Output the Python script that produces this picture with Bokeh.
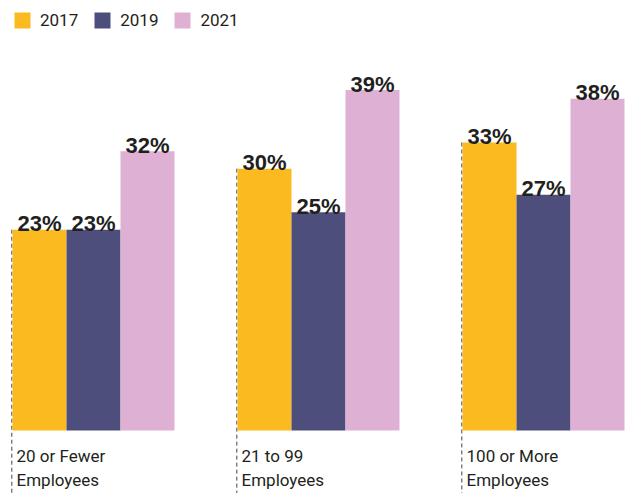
from bokeh.plotting import figure
from bokeh.models import ColumnDataSource, Legend, LegendItem, Range1d
from bokeh.transform import dodge
from bokeh.embed import file_html
from bokeh.resources import INLINE
from bokeh.core.properties import value

categories = ["20 or Fewer\nEmployees", "21 to 99\nEmployees", "100 or More\nEmployees"]
years = ["2017", "2019", "2021"]
v2017 = [23, 30, 33]
v2019 = [23, 25, 27]
v2021 = [32, 39, 38]
colors = ["#FBBA1F", "#4D4E7C", "#DEB0D3"]

y_start, y_end = -7.216, 49.26
src = ColumnDataSource(dict(
    x=list(range(len(categories))),
    cat=categories,
    v2017=v2017, v2019=v2019, v2021=v2021,
    l2017=[f"{v}%" for v in v2017],
    l2019=[f"{v}%" for v in v2019],
    l2021=[f"{v}%" for v in v2021],
    ybot=[y_start] * len(categories),
))

p = figure(width=630, height=493, x_range=Range1d(-0.4133, 2.3867),
           y_range=Range1d(y_start, y_end), output_backend="svg",
           toolbar_location=None, min_border=0,
           x_axis_location=None, y_axis_location=None)
p.grid.visible = False
p.outline_line_color = None

bw = 0.24
offsets = [-bw, 0, bw]

# dashed guide lines
p.segment(x0=dodge('x', -1.5 * bw - 0.003, range=p.x_range), y0='v2017',
          x1=dodge('x', -1.5 * bw - 0.003, range=p.x_range), y1='ybot',
          source=src, line_color="#444444", line_width=1, line_dash="4 3")

items = []
for yr, off, col in zip(years, offsets, colors):
    r = p.vbar(x=dodge('x', off, range=p.x_range), top='v' + yr, bottom=0,
               width=bw, source=src, fill_color=col, line_color=None)
    items.append(LegendItem(label=yr, renderers=[r]))
    p.text(x=dodge('x', off, range=p.x_range), y='v' + yr, text='l' + yr,
           source=src, text_align='center', text_baseline='alphabetic',
           y_offset=-6, text_font=value("Liberation Sans"),
           text_font_style='bold', text_font_size='22px', text_color='#231f20')

p.text(x=dodge('x', -1.5 * bw + 0.018, range=p.x_range), y=0, text='cat', source=src,
       text_align='left', text_baseline='top', y_offset=15,
       text_font=value("Roboto"), text_font_size='17px', text_color='#231f20',
       text_line_height=1.22)

legend = Legend(items=items, orientation='horizontal', location=(12, 463),
                margin=0, padding=0, glyph_width=20, glyph_height=20,
                label_standoff=8, spacing=14, label_text_font="Roboto",
                label_text_font_size='17px', label_text_color='#231f20',
                border_line_color=None, background_fill_alpha=0,
                label_height=20)
p.add_layout(legend)

open("out.html", "w").write(file_html(p, INLINE))
